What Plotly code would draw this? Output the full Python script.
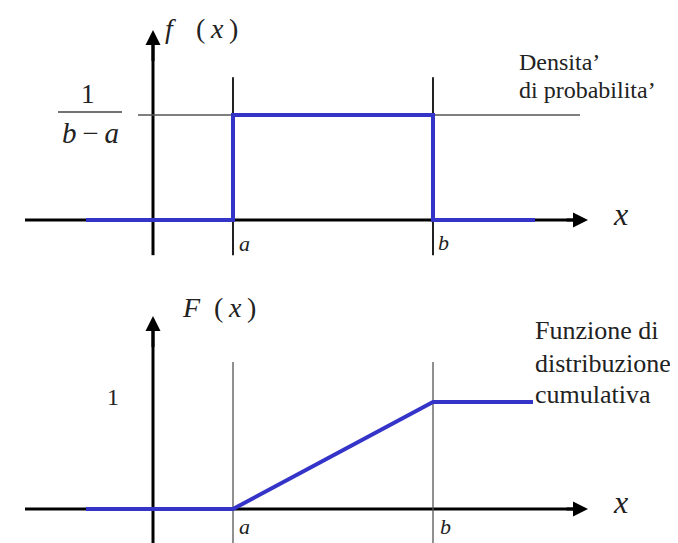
import plotly.graph_objects as go

# ---- data (x in units: a = 2, b = 7) ----
a_val = 2
b_val = 7
pdf_x = [-1.675, 2, 2, 7, 7, 9.55]
pdf_y = [0, 0, 0.2, 0.2, 0, 0]
cdf_x = [-1.675, 2, 7, 9.5]
cdf_y = [0, 0, 1, 1]
density_level = 0.2
pdf_note = ["Densita’", "di probabilita’"]
cdf_note = ["Funzione di", "distribuzione", "cumulativa"]

BLUE = "#3434c8"
SERIF = "Liberation Serif"
TXT = "#222222"

# page body margin offset (8 px)
OFF = 8
W, H = 678 - OFF, 543 - OFF
X0PX = 153 - OFF      # pixel of x = 0
PXU = 40              # pixels per x unit
Y0TOP = 220 - OFF     # pixel of y = 0 (top panel)
PYT = 525             # pixels per unit, top panel
Y0BOT = 509 - OFF     # pixel of y = 0 (bottom panel)
PYB = 107

fig = go.Figure()
fig.add_trace(go.Scatter(x=pdf_x, y=pdf_y, mode="lines", yaxis="y",
                         line=dict(color=BLUE, width=4), hoverinfo="skip", showlegend=False))
fig.add_trace(go.Scatter(x=cdf_x, y=cdf_y, mode="lines", yaxis="y2",
                         line=dict(color=BLUE, width=4), hoverinfo="skip", showlegend=False))

shapes = []
shapes.append(dict(type="line", xref="x", yref="y", x0=-3.2, x1=10.6, y0=0, y1=0,
                   line=dict(color="black", width=3), layer="below"))
shapes.append(dict(type="line", xref="x", yref="y", x0=0, x1=0, y0=-0.067, y1=0.34,
                   line=dict(color="black", width=3), layer="below"))
shapes.append(dict(type="line", xref="x", yref="y2", x0=-3.2, x1=10.6, y0=0, y1=0,
                   line=dict(color="black", width=3), layer="below"))
shapes.append(dict(type="line", xref="x", yref="y2", x0=0, x1=0, y0=-0.4, y1=1.7,
                   line=dict(color="black", width=3), layer="below"))
shapes.append(dict(type="line", xref="x", yref="y", x0=-0.375, x1=10.675,
                   y0=density_level, y1=density_level,
                   line=dict(color="#555555", width=1.3), layer="below"))
for xv in (a_val, b_val):
    shapes.append(dict(type="line", xref="x", yref="y", x0=xv, x1=xv, y0=-0.067, y1=0.272,
                       line=dict(color="#222222", width=2), layer="below"))
    shapes.append(dict(type="line", xref="x", yref="y2", x0=xv, x1=xv, y0=-0.4, y1=1.374,
                       line=dict(color="#555555", width=1.3), layer="below"))
shapes.append(dict(type="line", xref="x", yref="y", x0=-2.375, x1=-0.775, y0=0.2057, y1=0.2057,
                   line=dict(color="#444444", width=1.5)))

ann = []
def arrow(x, y, ax, ay, yref):
    ann.append(dict(x=x, y=y, ax=ax, ay=ay, xref="x", yref=yref, axref="x", ayref=yref,
                    text="", showarrow=True, arrowhead=2, arrowsize=1, arrowwidth=3,
                    arrowcolor="black", standoff=0, startstandoff=0))

arrow(10.875, 0, 10.3, 0, "y")
arrow(0, 0.362, 0, 0.30, "y")
arrow(10.875, 0, 10.3, 0, "y2")
arrow(0, 1.804, 0, 1.5, "y2")

def label(text, x, y, yref, size, xanchor="center", align="center"):
    ann.append(dict(text=text, x=x, y=y, xref="x", yref=yref, showarrow=False,
                    xanchor=xanchor, yanchor="middle", align=align,
                    font=dict(family=SERIF, size=size, color=TXT)))

label("<i>f</i>\u2002\u2004(\u2009<i>x</i>\u2009)", 0.25, 0.364, "y", 28, xanchor="left")
label("<i>F</i>\u2002(\u2009<i>x</i>\u2009)", 0.675, 1.879, "y2", 28, xanchor="left")
label("1", -1.625, 0.240, "y", 27)
label("<i>b</i>\u2009\u2212\u2009<i>a</i>", -1.575, 0.1657, "y", 29)
for txt, yv in zip(pdf_note, [0.301, 0.2476]):
    label(txt, 9.1, yv, "y", 24, xanchor="left", align="left")
for txt, yv in zip(cdf_note, [1.6636, 1.3645, 1.0748]):
    label(txt, 9.5, yv, "y2", 26, xanchor="left", align="left")
label("<i>x</i>", 11.675, 0.0114, "y", 32)
label("<i>x</i>", 11.675, 0.065, "y2", 32)
label("<i>a</i>", 2.275, -0.0457, "y", 22)
label("<i>b</i>", 7.25, -0.042, "y", 22)
label("<i>a</i>", 2.275, -0.168, "y2", 22)
label("<i>b</i>", 7.3, -0.168, "y2", 22)
label("1", -1.0, 1.047, "y2", 24)

fig.update_layout(
    width=W, height=H,
    margin=dict(l=0, r=0, t=0, b=0),
    paper_bgcolor="white", plot_bgcolor="white",
    xaxis=dict(range=[-X0PX / PXU, (W - X0PX) / PXU], visible=False, fixedrange=True),
    yaxis=dict(range=[(Y0TOP - H) / PYT, Y0TOP / PYT], visible=False, domain=[0, 1], fixedrange=True),
    yaxis2=dict(range=[(Y0BOT - H) / PYB, Y0BOT / PYB], visible=False, overlaying="y", fixedrange=True),
    shapes=shapes, annotations=ann, showlegend=False,
)

fig.write_html("out.html")
